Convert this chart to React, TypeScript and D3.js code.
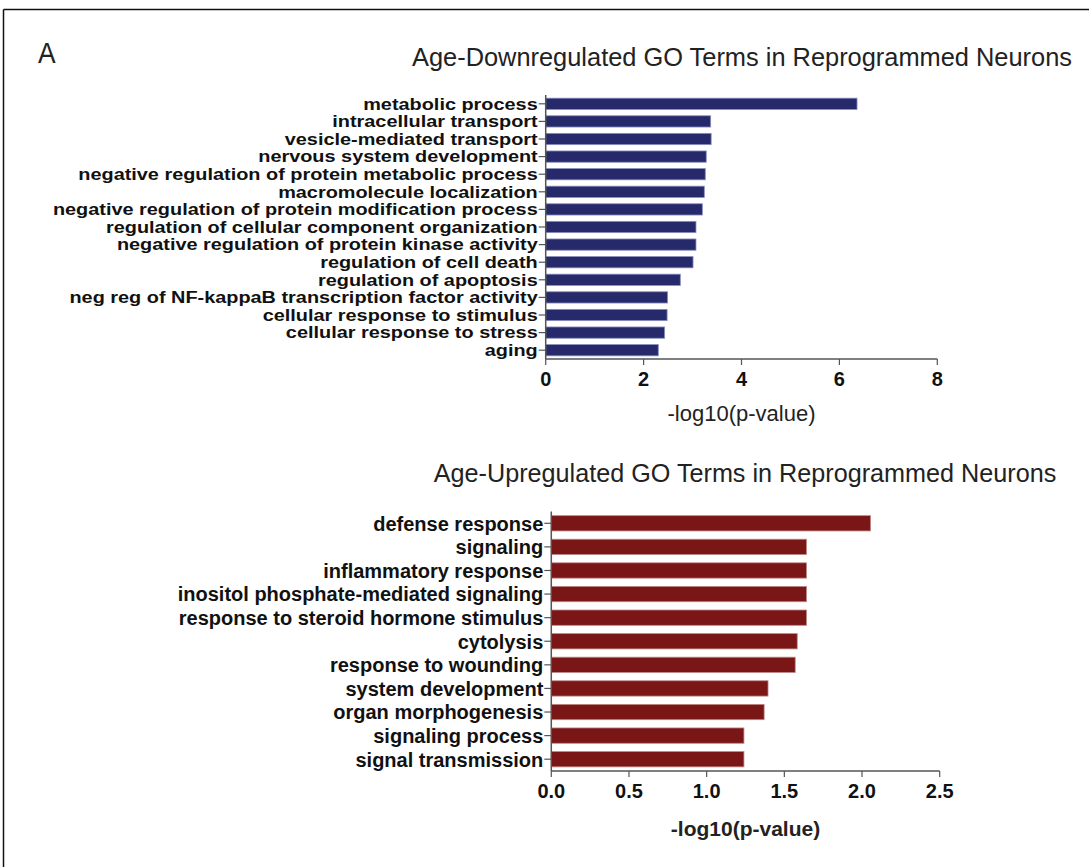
import React from "react";
import * as d3 from "d3";

const downTerms = [
  "metabolic process",
  "intracellular transport",
  "vesicle-mediated transport",
  "nervous system development",
  "negative regulation of protein metabolic process",
  "macromolecule localization",
  "negative regulation of protein modification process",
  "regulation of cellular component organization",
  "negative regulation of protein kinase activity",
  "regulation of cell death",
  "regulation of apoptosis",
  "neg reg of NF-kappaB transcription factor activity",
  "cellular response to stimulus",
  "cellular response to stress",
  "aging",
];
const downValues = [6.36, 3.37, 3.38, 3.28, 3.26, 3.24, 3.2, 3.07, 3.07, 3.01, 2.75, 2.49, 2.48, 2.43, 2.3];
const downTicks = [0, 2, 4, 6, 8];

const upTerms = [
  "defense response",
  "signaling",
  "inflammatory response",
  "inositol phosphate-mediated signaling",
  "response to steroid hormone stimulus",
  "cytolysis",
  "response to wounding",
  "system development",
  "organ morphogenesis",
  "signaling process",
  "signal transmission",
];
const upValues = [2.055, 1.643, 1.643, 1.643, 1.643, 1.583, 1.57, 1.395, 1.37, 1.24, 1.24];
const upTicks = [0, 0.5, 1.0, 1.5, 2.0, 2.5];

const FONT = "'Liberation Sans', Arial, sans-serif";

type PanelProps = {
  terms: string[];
  values: number[];
  ticks: number[];
  domainMax: number;
  x0: number;
  x1: number;
  yTop: number;
  yBottom: number;
  padding: number;
  color: string;
  edge: string;
  labelSize: number;
  labelScale: number;
  tickFormat: (v: number) => string;
  title: string;
  titleX: number;
  titleY: number;
  titleSize: number;
  axisTitleY: number;
  axisTitleBold: boolean;
  axisTitleSize: number;
};

function Panel(p: PanelProps) {
  const x = d3.scaleLinear().domain([0, p.domainMax]).range([p.x0, p.x1]);
  const y = d3.scaleBand<string>().domain(p.terms).range([p.yTop, p.yBottom]).paddingInner(p.padding).paddingOuter(p.padding / 2);
  const axisColor = "#555";
  return (
    <g>
      <text x={p.titleX} y={p.titleY} fontFamily={FONT} fontSize={p.titleSize} fill="#222" textAnchor="middle">
        {p.title}
      </text>
      {p.terms.map((t, i) => {
        const cy = y(t)! + y.bandwidth() / 2;
        return (
          <g key={t}>
            <rect
              x={x(0)}
              y={y(t)!}
              width={x(p.values[i]) - x(0)}
              height={y.bandwidth()}
              fill={p.color}
              stroke={p.edge}
              strokeWidth={0.8}
            />
            <line x1={x(0) - 7} x2={x(0)} y1={cy} y2={cy} stroke={axisColor} strokeWidth={1.2} />
            <g transform={`translate(${x(0) - 8},${cy}) scale(${p.labelScale},1)`}>
              <text x={0} y={0} dy="0.37em" textAnchor="end" fontFamily={FONT} fontWeight="bold" fontSize={p.labelSize} fill="#111">
                {t}
              </text>
            </g>
          </g>
        );
      })}
      <line x1={x(0)} x2={x(0)} y1={p.yTop} y2={p.yBottom} stroke={axisColor} strokeWidth={1.5} />
      <line x1={x(0)} x2={p.x1} y1={p.yBottom} y2={p.yBottom} stroke={axisColor} strokeWidth={1.5} />
      {p.ticks.map((v) => (
        <g key={v}>
          <line x1={x(v)} x2={x(v)} y1={p.yBottom} y2={p.yBottom + 6} stroke={axisColor} strokeWidth={1.2} />
          <text x={x(v)} y={p.yBottom + 27} textAnchor="middle" fontFamily={FONT} fontWeight="bold" fontSize={20} fill="#111">
            {p.tickFormat(v)}
          </text>
        </g>
      ))}
      <text
        x={(p.x0 + p.x1) / 2}
        y={p.axisTitleY}
        textAnchor="middle"
        fontFamily={FONT}
        fontWeight={p.axisTitleBold ? "bold" : "normal"}
        fontSize={p.axisTitleSize}
        fill="#222"
      >
        -log10(p-value)
      </text>
    </g>
  );
}

export default function App() {
  return (
    <svg width={1089} height={867} style={{ position: "absolute", left: 0, top: 0, background: "#fff" }}>
      <line x1={3.5} x2={1089} y1={9.5} y2={9.5} stroke="#111" strokeWidth={1.5} />
      <line x1={3.5} x2={3.5} y1={9.5} y2={867} stroke="#111" strokeWidth={1.5} />
      <g transform="translate(38,63) scale(0.88,1)">
        <text x={0} y={0} fontFamily={FONT} fontSize={30} fill="#222">
          A
        </text>
      </g>
      <Panel
        terms={downTerms}
        values={downValues}
        ticks={downTicks}
        domainMax={8}
        x0={545.7}
        x1={937.3}
        yTop={95}
        yBottom={359}
        padding={0.36}
        color="#262a6b"
        edge="#8a8fbf"
        labelSize={15.6}
        labelScale={1.275}
        tickFormat={(v) => String(v)}
        title="Age-Downregulated GO Terms in Reprogrammed Neurons"
        titleX={742}
        titleY={66}
        titleSize={25.4}
        axisTitleY={421}
        axisTitleBold={false}
        axisTitleSize={22}
      />
      <Panel
        terms={upTerms}
        values={upValues}
        ticks={upTicks}
        domainMax={2.5}
        x0={551.3}
        x1={939.7}
        yTop={511.5}
        yBottom={771}
        padding={0.35}
        color="#7a1616"
        edge="#c08a8a"
        labelSize={20}
        labelScale={1}
        tickFormat={(v) => v.toFixed(1)}
        title="Age-Upregulated GO Terms in Reprogrammed Neurons"
        titleX={745}
        titleY={482}
        titleSize={25.2}
        axisTitleY={836}
        axisTitleBold={true}
        axisTitleSize={21}
      />
    </svg>
  );
}
